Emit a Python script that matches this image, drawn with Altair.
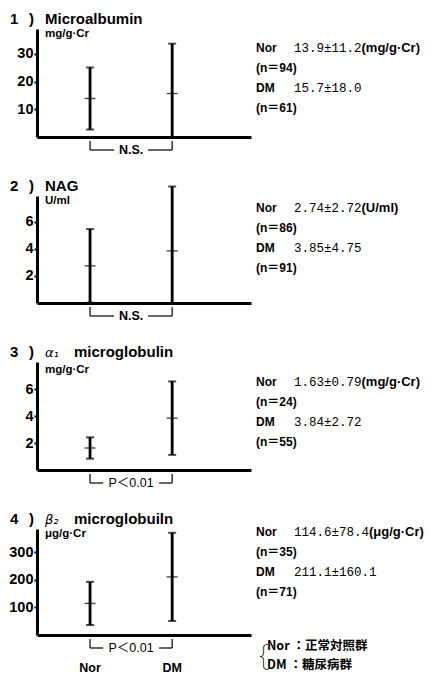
import altair as alt
import pandas as pd

# ---------------- data ----------------
groups = ["Nor", "DM"]
panel_nums = ["1", "2", "3", "4"]
greek = ["", "", "α₁", "β₂"]
names = ["Microalbumin", "NAG", "microglobulin", "microglobuiln"]
units = ["mg/g·Cr", "U/ml", "mg/g·Cr", "μg/g·Cr"]
unit_notes = ["(mg/g·Cr)", "(U/ml)", "(mg/g·Cr)", "(μg/g·Cr)"]
means = [[13.9, 15.7], [2.74, 3.85], [1.63, 3.84], [114.6, 211.1]]
sds = [[11.2, 18.0], [2.72, 4.75], [0.79, 2.72], [78.4, 160.1]]
decimals = [1, 2, 2, 1]
ns = [[94, 61], [86, 91], [24, 55], [35, 71]]
signif = ["N.S.", "N.S.", "P＜0.01", "P＜0.01"]
y_ticks = [[10, 20, 30], [2, 4, 6], [2, 4, 6], [100, 200, 300]]
y_max = [39, 7.9, 8.0, 385]
legend_lines = ["Nor ：正常対照群", "DM  ：糖尿病群"]

# ---------------- layout / style ----------------
H = [108, 107, 108, 106]
W = 214
XDOM = [0.354, 2.96]
ANN_TOP = [19, 12, 20, 3]
ANN_STEP = 20
GAP = [17, 17, 28, 28]
SANS = "Liberation Sans, Arial, sans-serif"
MONO = "Liberation Mono, DejaVu Sans Mono, monospace"
CJK = "Liberation Sans, Noto Sans CJK JP, sans-serif"


def panel(i):
    h = H[i]
    pos = list(range(1, len(groups) + 1))
    df = pd.DataFrame({"group": groups, "pos": pos, "mean": means[i], "sd": sds[i]})
    df["lo_raw"] = df["mean"] - df["sd"]
    df["lo"] = df["lo_raw"].clip(lower=0)
    df["hi"] = df["mean"] + df["sd"]

    xscale = alt.Scale(domain=XDOM, zero=False, nice=False)
    xaxis = alt.Axis(title=None, labels=False, ticks=False, grid=False,
                     domainWidth=3, domainColor="black")
    yscale = alt.Scale(domain=[0, y_max[i]], zero=True, nice=False)
    yaxis = alt.Axis(title=None, values=y_ticks[i], grid=False, domainWidth=3,
                     domainColor="black", tickSize=3, tickWidth=2, tickColor="black",
                     labelFont=SANS, labelFontSize=14.5, labelFontWeight="bold",
                     labelColor="black", labelPadding=1)

    def X(f):
        return alt.X(f"{f}:Q", scale=xscale, axis=xaxis)

    def Y(f):
        return alt.Y(f"{f}:Q", scale=yscale, axis=yaxis)

    base = alt.Chart(df)
    bars = base.mark_rule(color="black", strokeWidth=2.8).encode(x=X("pos"), y=Y("lo"), y2="hi")
    top = base.mark_tick(orient="horizontal", size=8, thickness=2, color="black").encode(
        x=X("pos"), y=Y("hi"))
    bot = base.transform_filter("datum.lo_raw > 0").mark_tick(
        orient="horizontal", size=8, thickness=2, color="black").encode(x=X("pos"), y=Y("lo_raw"))
    mid = base.mark_tick(orient="horizontal", size=11, thickness=1.4, color="black").encode(
        x=X("pos"), y=Y("mean"))

    layers = [bars, top, bot, mid]

    # significance bracket
    bdf = pd.DataFrame({"x1": [pos[0]], "x2": [pos[-1]], "label": [signif[i]]})
    bdf["mid"] = (bdf["x1"] + bdf["x2"]) / 2
    bb = alt.Chart(bdf)
    yb = h + 13
    is_p = "P" in signif[i]
    layers += [
        bb.mark_rule(color="black", strokeWidth=1.2, x2Offset=-GAP[i]).encode(
            x=X("x1"), x2="mid", y=alt.value(yb)),
        bb.mark_rule(color="black", strokeWidth=1.2, xOffset=GAP[i]).encode(
            x=X("mid"), x2="x2", y=alt.value(yb)),
        bb.mark_rule(color="black", strokeWidth=1.2).encode(
            x=X("x1"), y=alt.value(h + 4), y2=alt.value(yb)),
        bb.mark_rule(color="black", strokeWidth=1.2).encode(
            x=X("x2"), y=alt.value(h + 4), y2=alt.value(yb)),
        bb.mark_text(font=CJK if is_p else SANS, fontSize=12.5,
                     fontWeight="normal" if is_p else "bold",
                     color="black", baseline="middle").encode(
            x=X("mid"), y=alt.value(yb), text="label"),
    ]

    # title
    tdf = pd.DataFrame({"num": [panel_nums[i]], "paren": [")"], "greek": [greek[i]],
                        "name": [names[i]], "unit": [units[i]]})
    tb = alt.Chart(tdf)
    name_dx = 37 if greek[i] else 8
    layers += [
        tb.mark_text(font=SANS, fontSize=15, fontWeight="bold", align="left",
                     baseline="middle", color="black").encode(
            x=alt.value(-27), y=alt.value(-10), text="num"),
        tb.mark_text(font=SANS, fontSize=15, fontWeight="bold", align="left",
                     baseline="middle", color="black").encode(
            x=alt.value(-8), y=alt.value(-10), text="paren"),
        tb.mark_text(font=SANS, fontSize=15, fontWeight="bold", align="left",
                     baseline="middle", color="black").encode(
            x=alt.value(name_dx), y=alt.value(-10), text="name"),
        tb.mark_text(font=SANS, fontSize=11.5, fontWeight="bold", align="left",
                     baseline="middle", color="black").encode(
            x=alt.value(8), y=alt.value(8 if i == 2 else 5), text="unit"),
    ]
    if greek[i]:
        layers.append(
            tb.mark_text(font="DejaVu Sans", fontSize=13, fontStyle="italic", align="left",
                         baseline="middle", color="black").encode(
                x=alt.value(8), y=alt.value(-9), text="greek"))

    # right-hand annotations
    d = decimals[i]
    for k, g in enumerate(groups):
        stat = f"{means[i][k]:.{d}f}±{sds[i][k]:.{d}f}"
        adf = pd.DataFrame({"g": [g], "stat": [stat], "n": [f"(n＝{ns[i][k]})"],
                            "unit": [unit_notes[i] if k == 0 else ""]})
        ab = alt.Chart(adf)
        y0 = ANN_TOP[i] + ANN_STEP * 2 * k
        layers += [
            ab.mark_text(font=SANS, fontSize=12, fontWeight="bold", align="left",
                         baseline="middle", color="black").encode(
                x=alt.value(219), y=alt.value(y0), text="g"),
            ab.mark_text(font=MONO, fontSize=12.5, align="left",
                         baseline="middle", color="black").encode(
                x=alt.value(257), y=alt.value(y0), text="stat"),
            ab.mark_text(font=SANS, fontSize=13, fontWeight="bold", align="left",
                         baseline="middle", color="black").encode(
                x=alt.value(257 + 7.5 * len(stat)), y=alt.value(y0), text="unit"),
            ab.mark_text(font=CJK, fontSize=12, fontWeight="bold", align="left",
                         baseline="middle", color="black").encode(
                x=alt.value(219), y=alt.value(y0 + ANN_STEP), text="n"),
        ]

    if i == len(H) - 1:
        # group labels
        layers.append(
            base.mark_text(font=SANS, fontSize=12.5, fontWeight="bold", baseline="middle",
                           color="black").encode(x=X("pos"), y=alt.value(h + 33), text="group"))
        # legend
        ldf = pd.DataFrame({"brace": ["{"]})
        layers.append(
            alt.Chart(ldf).mark_text(font="Noto Sans", fontSize=30, fontWeight=100,
                                     align="left", baseline="middle", color="black").encode(
                x=alt.value(222), y=alt.value(h + 21), text="brace"))
        for k, line in enumerate(legend_lines):
            layers.append(
                alt.Chart(pd.DataFrame({"t": [line]})).mark_text(
                    font="Noto Sans CJK JP", fontSize=12.5, fontWeight="bold", align="left",
                    baseline="middle", color="black").encode(
                    x=alt.value(230), y=alt.value(h + 11 + 19 * k), text="t"))

    return alt.layer(*layers).properties(width=W, height=h)


chart = alt.vconcat(*[panel(i) for i in range(4)], spacing=59, bounds="flush").properties(
    padding={"top": 4, "left": 0, "right": 0, "bottom": 0}
).configure_view(stroke=None)

chart.save("out.html", embed_options={"renderer": "svg", "actions": False})
